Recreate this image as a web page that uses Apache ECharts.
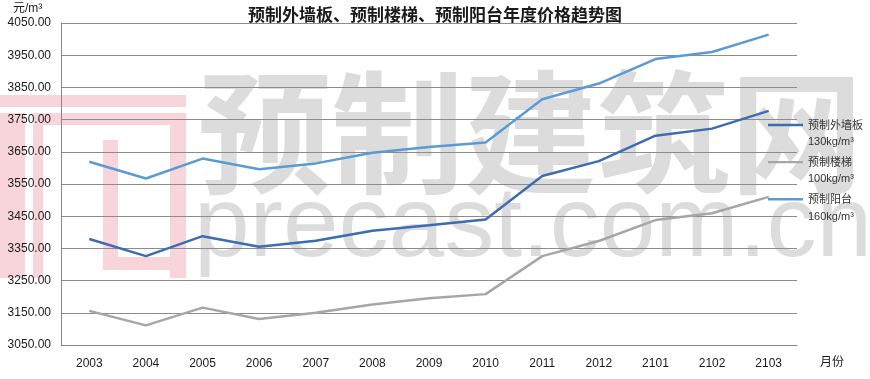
<!DOCTYPE html>
<html><head><meta charset="utf-8">
<script src="https://cdn.jsdelivr.net/npm/echarts@6/dist/echarts.min.js"></script>
<style>html,body{margin:0;padding:0;background:#fff}#c{width:870px;height:379px}</style>
</head><body><div id="c"></div>
<script>
const categories = ['2003','2004','2005','2006','2007','2008','2009','2010','2011','2012','2101','2102','2103'];
const wallPanel = [3379,3326,3388,3355,3374,3405,3422,3440,3575,3621,3700,3722,3777];
const stairs    = [3156,3111,3166,3131,3150,3176,3195,3208,3326,3373,3438,3459,3510];
const balcony   = [3619,3567,3629,3596,3614,3647,3665,3679,3813,3862,3938,3960,4014];
const seriesNames = ['预制外墙板','预制楼梯','预制阳台'];
const seriesUnits = ['130kg/m³','100kg/m³','160kg/m³'];
const yMin = 3050, yMax = 4050, yStep = 100;

const chart = echarts.init(document.getElementById('c'));
const font = '"Liberation Sans", "Noto Sans CJK SC", sans-serif';
const pink = '#f8d5da';
const wmGray = '#dcdcdc';
const legendIcon = 'path://M0,6 H36 V8.5 H0 Z M0,0 h0.01 v0.01 Z M0,33 h0.01 v0.01 Z';
chart.setOption({
  animation: false,
  backgroundColor: '#fff',
  title: {
    text: '预制外墙板、预制楼梯、预制阳台年度价格趋势图',
    left: 'center', top: 1,
    textStyle: { fontSize: 17, fontWeight: 'bold', color: '#1a1a1a', fontFamily: '"Noto Sans CJK SC", sans-serif' }
  },
  graphic: [
    // watermark logo
    { type: 'rect', z: -10, shape: { x: 0, y: 95, width: 186, height: 12 }, style: { fill: pink } },
    { type: 'rect', z: -10, shape: { x: 0, y: 113, width: 25, height: 165 }, style: { fill: pink } },
    { type: 'rect', z: -10, shape: { x: 33, y: 113, width: 10, height: 165 }, style: { fill: pink } },
    { type: 'rect', z: -10, shape: { x: 43, y: 113, width: 143, height: 12 }, style: { fill: pink } },
    { type: 'rect', z: -10, shape: { x: 170, y: 113, width: 16, height: 165 }, style: { fill: pink } },
    { type: 'rect', z: -10, shape: { x: 103, y: 140, width: 15, height: 130 }, style: { fill: pink } },
    { type: 'rect', z: -10, shape: { x: 103, y: 257, width: 67, height: 13 }, style: { fill: pink } },
    // watermark text
    { type: 'text', z: -10, left: 198, top: 66, style: { text: '预制建筑网', fontSize: 133, fontWeight: 'bold', fill: wmGray, fontFamily: '"Noto Sans CJK SC", sans-serif' } },
    { type: 'text', z: -10, left: 194, top: 178, style: { text: 'precast.com.cn', fontSize: 100, fill: wmGray, fontFamily: '"Liberation Sans", sans-serif' } },
    // y unit
    { type: 'text', left: 13, top: 3, style: { text: '元/m³', fontSize: 12, fill: '#1a1a1a', fontFamily: font } },
    // x unit
    { type: 'text', left: 820, top: 357, style: { text: '月份', fontSize: 12, fill: '#1a1a1a', fontFamily: font } }
  ],
  legend: {
    orient: 'vertical', left: 763, top: 113,
    itemWidth: 35, itemHeight: 33, itemGap: 5,
    icon: legendIcon,
    data: seriesNames,
    formatter: function (name) {
      const i = seriesNames.indexOf(name);
      return '{a|' + name + '}\n{a|' + seriesUnits[i] + '}';
    },
    textStyle: {
      color: '#333', fontSize: 11, fontFamily: font,
      rich: { a: { fontSize: 11, lineHeight: 16.5, color: '#333', fontFamily: font } }
    },
    itemStyle: { borderWidth: 0 }
  },
  grid: { left: 61, right: 73, top: 23, bottom: 34, containLabel: false },
  xAxis: {
    type: 'category', data: categories, boundaryGap: true,
    axisLine: { lineStyle: { color: '#868686', width: 1 } },
    axisTick: { alignWithLabel: true, inside: true, length: 4, lineStyle: { color: '#868686' } },
    axisLabel: { color: '#1a1a1a', fontSize: 12, margin: 13, fontFamily: font }
  },
  yAxis: {
    type: 'value', min: yMin, max: yMax, interval: yStep,
    axisLine: { show: true, lineStyle: { color: '#868686', width: 1 } },
    axisTick: { show: false },
    axisLabel: { color: '#1a1a1a', fontSize: 12, margin: 10, fontFamily: font, formatter: v => v.toFixed(2) },
    splitLine: { lineStyle: { color: '#8c8c8c', width: 1 } }
  },
  series: [
    { name: seriesNames[0], type: 'line', data: wallPanel, symbol: 'none', color: '#3b6db0', lineStyle: { width: 2.5, color: '#3b6db0' } },
    { name: seriesNames[1], type: 'line', data: stairs, symbol: 'none', color: '#a6a6a6', lineStyle: { width: 2.5, color: '#a6a6a6' } },
    { name: seriesNames[2], type: 'line', data: balcony, symbol: 'none', color: '#5b9bd5', lineStyle: { width: 2.5, color: '#5b9bd5' } }
  ]
});
</script></body></html>
